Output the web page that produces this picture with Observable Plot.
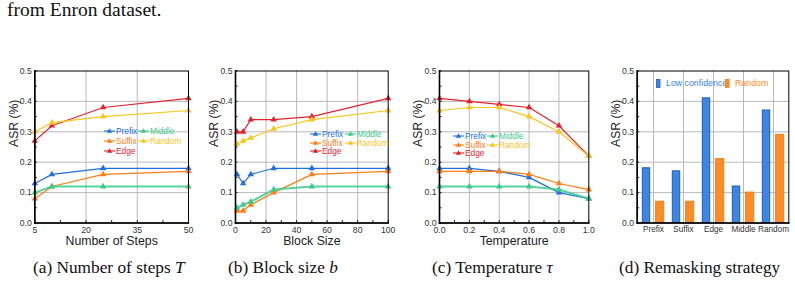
<!DOCTYPE html>
<html>
<head>
<meta charset="utf-8">
<script src="https://cdn.jsdelivr.net/npm/d3@7"></script>
<script src="https://cdn.jsdelivr.net/npm/@observablehq/plot@0.6"></script>
<style>
  body { margin: 0; background: #fff; width: 795px; height: 287px; position: relative; overflow: hidden; }
  .panel { position: absolute; top: 50px; }
  .serif { position: absolute; font-family: "Liberation Serif", "Times New Roman", serif; color: #111; white-space: nowrap; }
  .legend { position: absolute; font-family: "Liberation Sans", Arial, sans-serif; font-size: 8.3px; line-height: 10px; white-space: nowrap; }
  .legend .item { position: absolute; display: flex; align-items: center; }
  .legend svg { display: block; margin-right: 1px; }
</style>
</head>
<body>
<div class="serif" style="left:7px; top:-1px; font-size:19.5px;">from Enron dataset.</div>
<div id="pa" class="panel" style="left:0px"></div>
<div id="pb" class="panel" style="left:195px"></div>
<div id="pc" class="panel" style="left:392px"></div>
<div id="pd" class="panel" style="left:595px"></div>
<div class="serif" style="left:33px; top:258px; font-size:17.3px;">(a) Number of steps <i>T</i></div>
<div class="serif" style="left:228px; top:258px; font-size:17.3px;">(b) Block size <i>b</i></div>
<div class="serif" style="left:432px; top:258px; font-size:17.3px;">(c) Temperature <i>τ</i></div>
<div class="serif" style="left:619px; top:258px; font-size:17.3px;">(d) Remasking strategy</div>
<script>
// Series shared by the three line panels
const seriesNames = ["Prefix", "Suffix", "Edge", "Middle", "Random"];
const seriesColors = ["#2070dc", "#ff7d12", "#e2232e", "#3ccb8b", "#f5c61c"];
const seriesWidths = [1.2, 1.2, 1.2, 2, 1.2];

// (a) Number of steps
const stepsX = [5, 10, 25, 50];
const stepsPrefix = [0.13, 0.16, 0.18, 0.18];
const stepsSuffix = [0.08, 0.12, 0.16, 0.17];
const stepsEdge   = [0.27, 0.32, 0.38, 0.41];
const stepsMiddle = [0.10, 0.12, 0.12, 0.12];
const stepsRandom = [0.30, 0.33, 0.35, 0.37];
const stepsTicks = [5, 20, 35, 50];
const stepsMinor = [12.5, 27.5, 42.5];

// (b) Block size
const blockX = [1, 5, 10, 25, 50, 100];
const blockPrefix = [0.16, 0.13, 0.16, 0.18, 0.18, 0.18];
const blockSuffix = [0.04, 0.04, 0.06, 0.10, 0.16, 0.17];
const blockEdge   = [0.30, 0.30, 0.34, 0.34, 0.35, 0.41];
const blockMiddle = [0.05, 0.06, 0.07, 0.11, 0.12, 0.12];
const blockRandom = [0.26, 0.27, 0.28, 0.31, 0.34, 0.37];
const blockTicks = [0, 20, 40, 60, 80, 100];
const blockMinor = [10, 30, 50, 70, 90];

// (c) Temperature
const tempX = [0.0, 0.2, 0.4, 0.6, 0.8, 1.0];
const tempPrefix = [0.18, 0.18, 0.17, 0.15, 0.10, 0.08];
const tempSuffix = [0.17, 0.17, 0.17, 0.16, 0.13, 0.11];
const tempEdge   = [0.41, 0.40, 0.39, 0.38, 0.32, 0.22];
const tempMiddle = [0.12, 0.12, 0.12, 0.12, 0.11, 0.08];
const tempRandom = [0.37, 0.38, 0.38, 0.35, 0.30, 0.22];
const tempTicks = [0, 0.2, 0.4, 0.6, 0.8, 1.0];
const tempMinor = [0.1, 0.3, 0.5, 0.7, 0.9];

// (d) Remasking strategy
const strategyNames = ["Prefix", "Suffix", "Edge", "Middle", "Random"];
const lowConfidence = [0.18, 0.17, 0.41, 0.12, 0.37];
const randomRemask  = [0.07, 0.07, 0.21, 0.10, 0.29];
const barLabels = ["Low confidence", "Random"];
const barFills   = ["#3d85e0", "#ff8c26"];
const barStrokes = ["#1b5cc4", "#fb7d12"];

// Shared y axis
const yTicks = [0, 0.1, 0.2, 0.3, 0.4, 0.5];
const yMinor = [0.05, 0.15, 0.25, 0.35, 0.45];

const FONT = "'Liberation Sans', Arial, sans-serif";
const GRID = "#bababa";
const fmt1 = d3.format(".1f");
const PLOT_H = 205, M_TOP = 20.5, M_BOTTOM = 32.5;
const FRAME_H = PLOT_H - M_TOP - M_BOTTOM;

// y labels, grid and short inward ticks along the left edge
function yMarks(frameW) {
  return [
    Plot.gridY(yTicks.slice(1, -1), {stroke: GRID, strokeOpacity: 1, strokeWidth: 1}),
    Plot.axisY(yTicks, {tickSize: 0, tickPadding: 3, tickFormat: fmt1, fontSize: 8.7, fill: "#333", label: null}),
    Plot.tickY(yTicks.concat(yMinor), {y: d => d, insetRight: frameW - 2.5, stroke: "#222", strokeWidth: 1}),
    Plot.text(["ASR (%)"], {frameAnchor: "left", dx: -21, rotate: -90, fontSize: 12.2, fill: "#222"})
  ];
}

// heavier left and bottom edges of the frame
function frameMarks() {
  return [
    Plot.frame({stroke: "#000", strokeWidth: 1}),
    Plot.frame({anchor: "left", stroke: "#000", strokeWidth: 1.6}),
    Plot.frame({anchor: "bottom", stroke: "#000", strokeWidth: 1.6})
  ];
}

function linePanel(id, cfg) {
  const values = [cfg.prefix, cfg.suffix, cfg.edge, cfg.middle, cfg.random];
  const frameW = cfg.width - cfg.ml - cfg.mr;
  const marks = [
    Plot.gridX(cfg.ticks.slice(1, -1), {stroke: GRID, strokeOpacity: 1, strokeWidth: 1}),
    ...yMarks(frameW),
    Plot.axisX(cfg.ticks, {tickSize: 0, tickPadding: 4, tickFormat: cfg.format, fontSize: 8.7, fill: "#333", label: null}),
    Plot.tickX(cfg.ticks.concat(cfg.minor), {x: d => d, insetTop: FRAME_H - 2.5, stroke: "#222", strokeWidth: 1}),
    Plot.text([cfg.label], {frameAnchor: "bottom", dy: 22, fontSize: 12.3, fill: "#222"})
  ];
  seriesNames.forEach((name, i) => {
    const rows = cfg.x.map((x, j) => ({x, y: values[i][j]}));
    marks.push(Plot.line(rows, {x: "x", y: "y", stroke: seriesColors[i], strokeWidth: seriesWidths[i],
      strokeOpacity: i === 3 ? 0.85 : 1}));
    marks.push(Plot.dot(rows, {x: "x", y: "y", symbol: "triangle", r: 2.4, fill: seriesColors[i], stroke: "none"}));
  });
  marks.push(...frameMarks());

  const chart = Plot.plot({
    width: cfg.width, height: PLOT_H,
    marginLeft: cfg.ml, marginRight: cfg.mr, marginTop: M_TOP, marginBottom: M_BOTTOM,
    style: {fontFamily: FONT, background: "transparent", overflow: "visible"},
    x: {domain: cfg.domain, label: null},
    y: {domain: [0, 0.5], label: null},
    marks
  });
  const host = document.getElementById(id);
  host.appendChild(chart);

  // legend block inside the frame
  const lg = document.createElement("div");
  lg.className = "legend";
  lg.style.left = cfg.legend[0] + "px";
  lg.style.top = cfg.legend[1] + "px";
  const cols = [[0, 1, 2], [3, 4]];
  cols.forEach((col, c) => {
    col.forEach((si, r) => {
      const it = document.createElement("div");
      it.className = "item";
      it.style.left = (c * cfg.legendCol) + "px";
      it.style.top = (r * cfg.legendRow) + "px";
      const col0 = seriesColors[si];
      it.innerHTML = `<svg width="11" height="8"><line x1="0" y1="4" x2="11" y2="4" stroke="${col0}" stroke-width="1.1"/>` +
        `<path d="M5.5,1.2L8.2,5.8L2.8,5.8Z" fill="${col0}"/></svg><span style="color:${col0}">${seriesNames[si]}</span>`;
      lg.appendChild(it);
    });
  });
  host.appendChild(lg);
}

linePanel("pa", {x: stepsX, prefix: stepsPrefix, suffix: stepsSuffix, edge: stepsEdge, middle: stepsMiddle, random: stepsRandom,
  ticks: stepsTicks, minor: stepsMinor, domain: [5, 50], format: d3.format("d"), label: "Number of Steps",
  width: 195, ml: 34.3, mr: 7, legend: [104, 76], legendCol: 34, legendRow: 10});
linePanel("pb", {x: blockX, prefix: blockPrefix, suffix: blockSuffix, edge: blockEdge, middle: blockMiddle, random: blockRandom,
  ticks: blockTicks, minor: blockMinor, domain: [0, 100], format: d3.format("d"), label: "Block Size",
  width: 200, ml: 40, mr: 7.3, legend: [115, 79], legendCol: 35, legendRow: 8.5});
linePanel("pc", {x: tempX, prefix: tempPrefix, suffix: tempSuffix, edge: tempEdge, middle: tempMiddle, random: tempRandom,
  ticks: tempTicks, minor: tempMinor, domain: [0, 1], format: fmt1, label: "Temperature",
  width: 203, ml: 47, mr: 6.7, legend: [61, 81], legendCol: 34, legendRow: 8.5});

// (d) grouped bars, one pair per remasking position
(function () {
  const W = 200, ML = 41.7, MR = 6.7;
  const chart = Plot.plot({
    width: W, height: PLOT_H,
    marginLeft: ML, marginRight: MR, marginTop: M_TOP, marginBottom: M_BOTTOM,
    style: {fontFamily: FONT, background: "transparent", overflow: "visible"},
    x: {domain: strategyNames, padding: 0, label: null},
    y: {domain: [0, 0.5], label: null},
    marks: [
      Plot.gridX(strategyNames, {stroke: GRID, strokeOpacity: 1, strokeWidth: 1}),
      ...yMarks(W - ML - MR),
      Plot.axisX({tickSize: 0, tickPadding: 3.5, fontSize: 8.2, fill: "#333", label: null}),
      Plot.barY(strategyNames, {x: strategyNames, y: lowConfidence, insetLeft: 4.3, insetRight: 18.3,
        fill: barFills[0], stroke: barStrokes[0], strokeWidth: 1}),
      Plot.barY(strategyNames, {x: strategyNames, y: randomRemask, insetLeft: 17.6, insetRight: 4.3,
        fill: barFills[1], stroke: barStrokes[1], strokeWidth: 1}),
      ...frameMarks()
    ]
  });
  const host = document.getElementById("pd");
  host.appendChild(chart);

  const lg = document.createElement("div");
  lg.className = "legend";
  lg.style.left = "61px";
  lg.style.top = "28px";
  lg.style.fontSize = "8.8px";
  barLabels.forEach((name, i) => {
    const it = document.createElement("div");
    it.className = "item";
    it.style.left = (i * 69) + "px";
    it.style.top = "0px";
    it.innerHTML = `<svg width="6" height="9"><rect x="0.5" y="0.5" width="3.5" height="8" fill="${barFills[i]}" stroke="${barStrokes[i]}" stroke-width="0.8"/></svg>` +
      `<span style="color:${barFills[i]};margin-left:3px">${name}</span>`;
    lg.appendChild(it);
  });
  host.appendChild(lg);
})();
</script>
</body>
</html>
